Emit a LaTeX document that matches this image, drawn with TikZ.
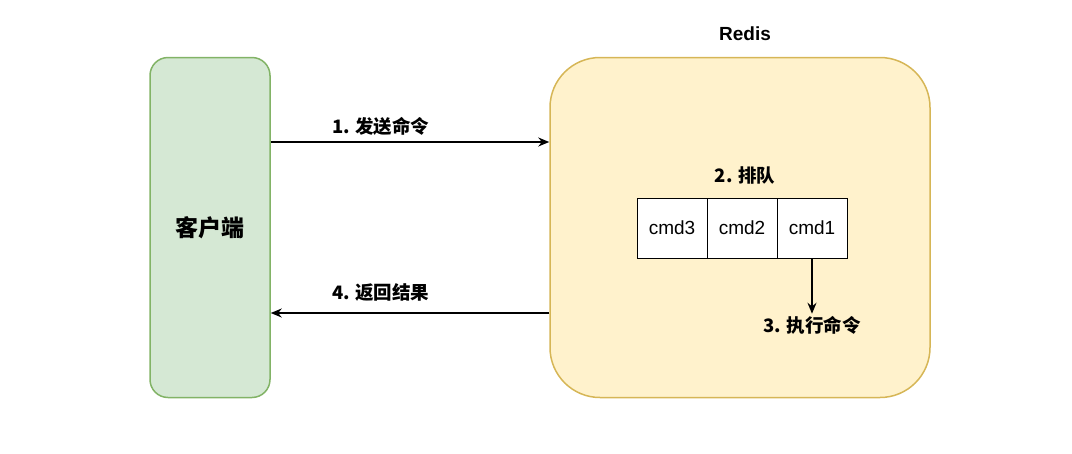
\documentclass[tikz,border=0pt]{standalone}
\usepackage{fontspec}
\setmainfont{Liberation Sans}
\newfontfamily\cjk{Noto Sans CJK SC}
\usepackage{tikz}
\usetikzlibrary{arrows.meta,positioning}
\definecolor{clientfill}{HTML}{D5E8D4}
\definecolor{clientline}{HTML}{82B366}
\definecolor{redisfill}{HTML}{FFF2CC}
\definecolor{redisline}{HTML}{D6B656}

\begin{document}
\begin{tikzpicture}[x=1pt,y=-1pt,
		client/.style={draw=clientline,fill=clientfill,line width=1.5pt,rounded corners=18pt,minimum width=120pt,minimum height=340pt,font=\cjk\bfseries\fontsize{23}{27}\selectfont},
		server/.style={draw=redisline,fill=redisfill,line width=1.5pt,rounded corners=50pt,minimum width=380pt,minimum height=340pt},
		cmdcell/.style={draw,fill=white,line width=0.8pt,minimum width=70pt,minimum height=60pt,inner sep=0pt,outer sep=0pt,font=\fontsize{19}{23}\selectfont},
		lbl/.style={font=\cjk\bfseries\fontsize{18.5}{22}\selectfont,inner sep=2pt},
		msg/.style={-{Stealth[length=11pt,width=9pt]},line width=1.6pt}]
	\useasboundingbox (0,0) rectangle (1072,453);
	\node[client] (client) at (210,227.5) {客户端};
	\node[server] (redis) at (740,227.5) {};
	\node[font=\bfseries\fontsize{19}{23}\selectfont] (redisname) at (745,34) {Redis};
	% queue in the middle of redis
	\node[cmdcell] (cmd3) at (672,228) {cmd3};
	\node[cmdcell,right=0pt of cmd3] (cmd2) {cmd2};
	\node[cmdcell,right=0pt of cmd2] (cmd1) {cmd1};
	\node[lbl] (queue) at (745,175) {2. 排队};
	\node[lbl] (exec) at (812,325) {3. 执行命令};
	\draw[msg] (cmd1.south) -- (cmd1.south |- exec.north);
	% request and reply
	\draw[msg] ([yshift=85.5pt]client.east) -- ([yshift=85.5pt]redis.west) node[lbl,pos=0.395,above=4pt] (send) {1. 发送命令};
	\draw[msg] ([yshift=-85.5pt]redis.west) -- ([yshift=-85.5pt]client.east) node[lbl,pos=0.605,above=9pt] (reply) {4. 返回结果};
\end{tikzpicture}
\end{document}
